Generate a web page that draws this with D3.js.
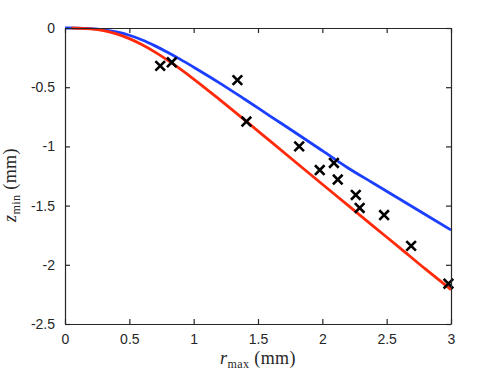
<!DOCTYPE html>
<html>
<head>
<meta charset="utf-8">
<script src="https://cdn.jsdelivr.net/npm/d3@7"></script>
<style>
  html, body { margin: 0; padding: 0; background: #fff; }
  svg { display: block; }
</style>
</head>
<body>
<svg id="chart" width="498" height="374"></svg>
<script>
// ---- data ----
const xTicks = [0, 0.5, 1, 1.5, 2, 2.5, 3];
const yTicks = [0, -0.5, -1, -1.5, -2, -2.5];

const blueR = [0, 0.1, 0.2, 0.3, 0.4, 0.5, 0.6, 0.7, 0.8, 0.9, 1.0, 1.2, 1.4, 1.6, 1.8, 2.0, 2.2, 2.4, 2.6, 2.8, 3.0];
const blueZ = [0, -0.001, -0.005, -0.015, -0.033, -0.061, -0.101, -0.151, -0.207, -0.267, -0.331, -0.463, -0.604, -0.748, -0.891, -1.036, -1.182, -1.313, -1.444, -1.575, -1.706];

const redR = [0.05, 0.1, 0.2, 0.3, 0.4, 0.5, 0.6, 0.7, 0.8, 0.9, 1.0, 1.2, 1.4, 1.6, 1.8, 2.0, 2.2, 2.4, 2.6, 2.8, 3.0];
const redZ = [0, -0.002, -0.008, -0.023, -0.050, -0.090, -0.142, -0.204, -0.274, -0.350, -0.431, -0.603, -0.780, -0.960, -1.140, -1.320, -1.498, -1.677, -1.855, -2.035, -2.209];

const pointsR = [0.74, 0.83, 1.34, 1.41, 1.82, 1.98, 2.09, 2.12, 2.26, 2.29, 2.48, 2.69, 2.98];
const pointsZ = [-0.32, -0.29, -0.44, -0.79, -1.00, -1.20, -1.14, -1.28, -1.41, -1.52, -1.58, -1.84, -2.16];

// ---- layout ----
const svg = d3.select("#chart");
const mLeft = 65, mRight = 451, mTop = 28, mBottom = 324;
const x = d3.scaleLinear().domain([0, 3]).range([mLeft, mRight]);
const y = d3.scaleLinear().domain([-2.5, 0]).range([mBottom, mTop]);
const axisColor = "#262626";
const tickFont = "'Liberation Sans', Arial, Helvetica, sans-serif";
const serif = "'Liberation Serif', 'Times New Roman', serif";

// curves
const line = d3.line().x(d => x(d[0])).y(d => y(d[1])).curve(d3.curveMonotoneX);
svg.append("path")
  .datum(blueR.map((r, i) => [r, blueZ[i]]))
  .attr("d", line).attr("fill", "none")
  .attr("stroke", "#1c3fff").attr("stroke-width", 2.8);
svg.append("path")
  .datum(redR.map((r, i) => [r, redZ[i]]))
  .attr("d", line).attr("fill", "none")
  .attr("stroke", "#ff2a0a").attr("stroke-width", 2.8);

// crosses
const s = 4.8;
svg.append("g").selectAll("path")
  .data(pointsR.map((r, i) => [r, pointsZ[i]]))
  .join("path")
  .attr("d", d => {
    const cx = x(d[0]), cy = y(d[1]);
    return `M${cx - s},${cy - s}L${cx + s},${cy + s}M${cx + s},${cy - s}L${cx - s},${cy + s}`;
  })
  .attr("stroke", "#000").attr("stroke-width", 2.6).attr("fill", "none");

// axes
function styleAxis(g) {
  g.selectAll("path.domain").attr("stroke", axisColor).attr("stroke-width", 1.2);
  g.selectAll(".tick line").attr("stroke", axisColor).attr("stroke-width", 1.2);
  g.selectAll(".tick text").attr("fill", axisColor)
    .style("font-family", tickFont).style("font-size", "14px");
}
const gx = svg.append("g").attr("transform", `translate(0,${mBottom})`)
  .call(d3.axisBottom(x).tickValues(xTicks).tickFormat(d3.format("")).tickSizeInner(-5).tickSizeOuter(0).tickPadding(10));
styleAxis(gx);
const gxt = svg.append("g").attr("transform", `translate(0,${mTop})`)
  .call(d3.axisTop(x).tickValues(xTicks).tickFormat("").tickSizeInner(-5).tickSizeOuter(0));
styleAxis(gxt);
const gy = svg.append("g").attr("transform", `translate(${mLeft},0)`)
  .call(d3.axisLeft(y).tickValues(yTicks).tickFormat(d => String(d)).tickSizeInner(-5).tickSizeOuter(0).tickPadding(10));
styleAxis(gy);
const gyr = svg.append("g").attr("transform", `translate(${mRight},0)`)
  .call(d3.axisRight(y).tickValues(yTicks).tickFormat("").tickSizeInner(-5).tickSizeOuter(0));
styleAxis(gyr);

// axis labels
const xl = svg.append("text")
  .attr("x", (mLeft + mRight) / 2).attr("y", 364)
  .attr("text-anchor", "middle").attr("fill", "#262626")
  .style("font-family", serif).style("font-size", "18px").style("letter-spacing", "0.4px");
xl.append("tspan").style("font-style", "italic").text("r");
xl.append("tspan").attr("dy", 4).style("font-size", "12px").text("max");
xl.append("tspan").attr("dy", -4).text(" (mm)");

const yl = svg.append("text")
  .attr("transform", `translate(16,${(mTop + mBottom) / 2 + 9}) rotate(-90)`)
  .attr("text-anchor", "middle").attr("fill", "#262626")
  .style("font-family", serif).style("font-size", "18px").style("letter-spacing", "0.4px");
yl.append("tspan").style("font-style", "italic").text("z");
yl.append("tspan").attr("dy", 4).style("font-size", "12px").text("min");
yl.append("tspan").attr("dy", -4).text(" (mm)");
</script>
</body>
</html>
